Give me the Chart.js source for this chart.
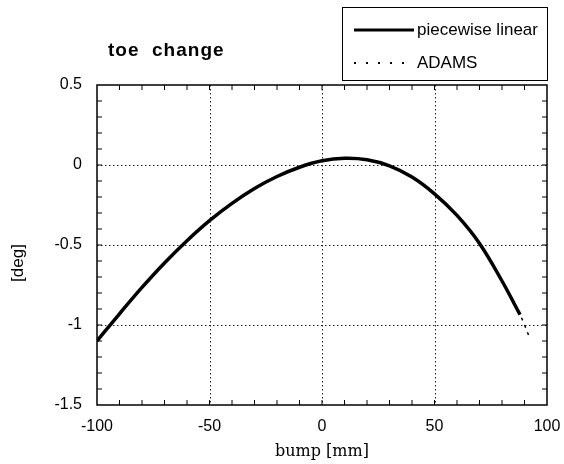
<!DOCTYPE html>
<html>
<head>
<meta charset="utf-8">
<script src="https://cdn.jsdelivr.net/npm/chart.js@4"></script>
<style>
  body { margin: 0; background: #fff; }
  #wrap { width: 564px; height: 464px; }
</style>
</head>
<body>
<div id="wrap"><canvas id="toeChart" width="564" height="464"></canvas></div>
<script>
// bump travel [mm] and toe change [deg]
const bump = [-100, -90, -80, -70, -60, -50, -40, -30, -20, -10, 0, 10, 20, 30, 40, 50, 60, 70, 80, 88];
const toePiecewise = [-1.10, -0.93, -0.765, -0.612, -0.473, -0.348, -0.24, -0.147, -0.072, -0.014, 0.026, 0.042, 0.033, -0.005, -0.075, -0.18, -0.315, -0.49, -0.725, -0.935];
// ADAMS curve lies on top of the other one, only its tail shows
const bumpAdams = [-100, -90, -80, -70, -60, -50, -40, -30, -20, -10, 0, 10, 20, 30, 40, 50, 60, 70, 80, 88, 92];
const toeAdams = [-1.10, -0.93, -0.765, -0.612, -0.473, -0.348, -0.24, -0.147, -0.072, -0.014, 0.026, 0.042, 0.033, -0.005, -0.075, -0.18, -0.315, -0.49, -0.725, -0.935, -1.07];
const xTicks = [-100, -50, 0, 50, 100];
const yTicks = [-1.5, -1, -0.5, 0, 0.5];

const pts = (xs, ys) => xs.map((x, i) => ({ x: x, y: ys[i] }));

// frame, dotted grid, inward ticks, legend box, titles
const framePlugin = {
  id: 'frame',
  beforeDatasetsDraw(chart) {
    const { ctx, chartArea: a, scales } = chart;
    ctx.save();
    ctx.strokeStyle = '#222';
    ctx.lineWidth = 1;
    ctx.setLineDash([1.5, 2.5]);
    ctx.beginPath();
    xTicks.slice(1, -1).forEach(v => {
      const px = Math.round(scales.x.getPixelForValue(v)) + 0.5;
      ctx.moveTo(px, a.top); ctx.lineTo(px, a.bottom);
    });
    yTicks.slice(1, -1).forEach(v => {
      const py = Math.round(scales.y.getPixelForValue(v)) + 0.5;
      ctx.moveTo(a.left, py); ctx.lineTo(a.right, py);
    });
    ctx.stroke();
    ctx.restore();
  },
  afterDatasetsDraw(chart) {
    const { ctx, chartArea: a, scales } = chart;
    ctx.save();
    ctx.strokeStyle = '#000';
    ctx.lineWidth = 1.5;
    ctx.strokeRect(a.left, a.top, a.right - a.left, a.bottom - a.top);

    // minor ticks, pointing inside
    ctx.lineWidth = 1;
    ctx.beginPath();
    for (let v = -90; v < 100; v += 10) {
      const px = scales.x.getPixelForValue(v);
      ctx.moveTo(px, a.bottom); ctx.lineTo(px, a.bottom - 5);
      ctx.moveTo(px, a.top); ctx.lineTo(px, a.top + 5);
    }
    for (let k = -14; k < 5; k++) {
      const py = scales.y.getPixelForValue(k / 10);
      ctx.moveTo(a.left, py); ctx.lineTo(a.left + 5, py);
      ctx.moveTo(a.right, py); ctx.lineTo(a.right - 5, py);
    }
    ctx.stroke();

    // title
    ctx.fillStyle = '#000';
    ctx.font = 'bold 19px "Liberation Sans", Arial, sans-serif';
    ctx.letterSpacing = '1px';
    ctx.textBaseline = 'alphabetic';
    ctx.textAlign = 'left';
    ctx.fillText('toe  change', 108, 56);
    ctx.letterSpacing = '0px';

    // legend box
    ctx.lineWidth = 1;
    ctx.strokeRect(342.5, 7.5, 205, 73);
    const rows = [30, 63];
    chart.data.datasets.forEach((ds, i) => {
      const y = rows[i];
      ctx.beginPath();
      ctx.strokeStyle = ds.borderColor;
      ctx.lineWidth = i === 0 ? 3 : 2;
      ctx.setLineDash(i === 0 ? [] : [2, 10]);
      ctx.moveTo(354, y); ctx.lineTo(414, y);
      ctx.stroke();
      ctx.setLineDash([]);
      ctx.font = '17px "Liberation Sans", Arial, sans-serif';
      ctx.textBaseline = 'middle';
      ctx.fillText(ds.label, 417, y);
    });

    // axis titles
    ctx.font = '16px "DejaVu Serif", serif';
    ctx.textAlign = 'center';
    ctx.textBaseline = 'middle';
    ctx.fillText('bump [mm]', (a.left + a.right) / 2, 452);

    ctx.translate(18, 263);
    ctx.rotate(-Math.PI / 2);
    ctx.font = '17px "Liberation Sans", Arial, sans-serif';
    ctx.fillText('[deg]', 0, 0);
    ctx.restore();
  }
};

new Chart(document.getElementById('toeChart'), {
  type: 'line',
  data: {
    datasets: [
      {
        label: 'piecewise linear',
        data: pts(bump, toePiecewise),
        borderColor: '#000',
        borderWidth: 3.5,
        pointRadius: 0,
        tension: 0.4
      },
      {
        label: 'ADAMS',
        data: pts(bumpAdams, toeAdams),
        borderColor: '#000',
        borderWidth: 1.5,
        borderDash: [3, 5],
        pointRadius: 0,
        tension: 0.4
      }
    ]
  },
  options: {
    responsive: false,
    animation: false,
    layout: { padding: { top: 85, right: 17, left: 0, bottom: 0 } },
    plugins: { legend: { display: false }, tooltip: { enabled: false } },
    scales: {
      x: {
        type: 'linear',
        min: -100,
        max: 100,
        grid: { display: false, drawTicks: false },
        border: { display: false },
        ticks: {
          stepSize: 50,
          color: '#000',
          padding: 12,
          font: { family: '"Liberation Sans", Arial, sans-serif', size: 16 },
          callback: v => String(v)
        },
        afterFit: s => { s.height = 59; s.paddingLeft = 0; s.paddingRight = 0; }
      },
      y: {
        min: -1.5,
        max: 0.5,
        grid: { display: false, drawTicks: false },
        border: { display: false },
        ticks: {
          stepSize: 0.5,
          color: '#000',
          padding: 15,
          font: { family: '"Liberation Sans", Arial, sans-serif', size: 16 },
          callback: v => String(v)
        },
        afterFit: s => { s.width = 97; s.paddingTop = 0; s.paddingBottom = 0; }
      }
    }
  },
  plugins: [framePlugin]
});
</script>
</body>
</html>
